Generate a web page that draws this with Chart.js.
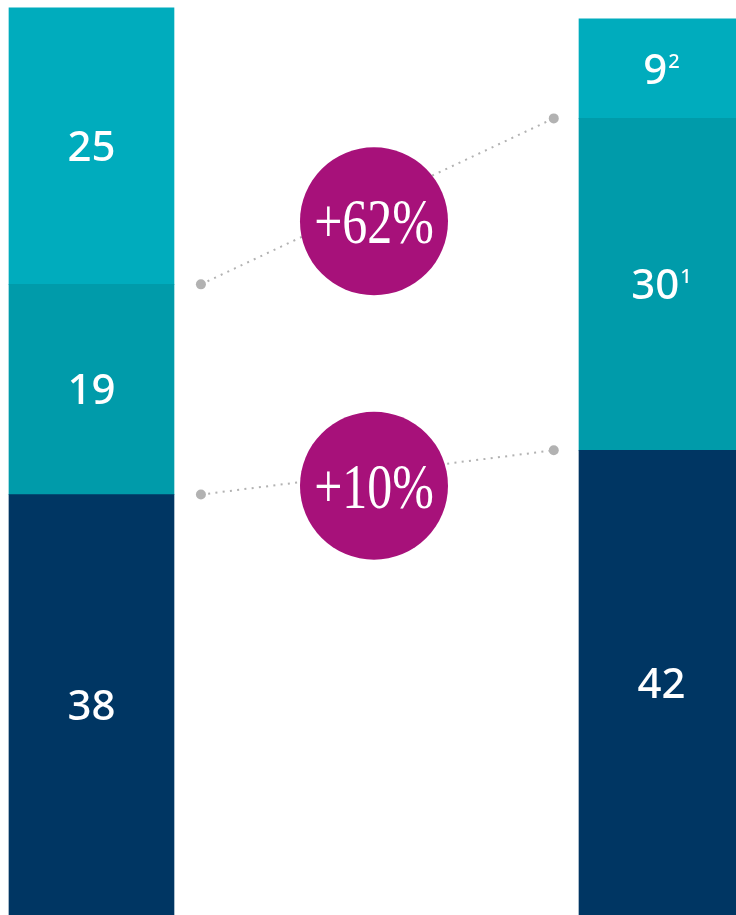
<!DOCTYPE html>
<html>
<head>
<meta charset="utf-8">
<script src="https://cdn.jsdelivr.net/npm/chart.js@4.4.0/dist/chart.umd.min.js"></script>
<style>
html,body{margin:0;padding:0;background:#fff;overflow:hidden}
#wrap{width:736px;height:915px}
</style>
</head>
<body>
<div id="wrap"><canvas id="c" width="736" height="915"></canvas></div>
<script>
// values, two columns stacked bottom -> top
var cols=[0,1];
var bottomVals=[38,42];
var midVals=[19,30];
var topVals=[25,9];
var bottomNotes=['',''];
var midNotes=['','1'];
var topNotes=['','2'];
var changeTxt=['+10%','+62%'];   // lower link, upper link

// layout
var X_MIN=-0.1605,X_MAX=1.1307,Y_MAX=82.7;
var linkX=[0.192,0.811],badgeX=0.4956,badgeY=[38.8,62.7],badgeR=74;

var cBottom='#003663',cMid='#009baa',cTop='#00acbd',cBadge='#a7117a',cLink='#b2b2b2';

function barSet(vals,color){
    return {type:'bar',stack:'s',order:3,backgroundColor:color,barThickness:165,borderWidth:0,
        data:cols.map(function(x,i){return {x:x,y:vals[i]};})};
}
function linkSet(a,b){
    return {type:'line',order:2,data:[{x:linkX[0],y:a},{x:linkX[1],y:b}],
        borderColor:cLink,borderWidth:2,borderDash:[2,5.3],fill:false,tension:0,
        pointRadius:5,pointBackgroundColor:cLink,pointBorderWidth:0};
}
function badgeSet(k){
    return {type:'bubble',order:1,data:[{x:badgeX,y:badgeY[k],r:badgeR}],
        backgroundColor:cBadge,borderWidth:0,hoverRadius:0};
}

var labelPlugin={
    id:'labels',
    afterDatasetsDraw:function(chart){
        var ctx=chart.ctx;
        ctx.save();
        ctx.fillStyle='#fff';
        ctx.textBaseline='alphabetic';
        ctx.textAlign='left';
        var sets=[[bottomVals,bottomNotes],[midVals,midNotes],[topVals,topNotes]];
        for(var d=0;d<3;d++){
            var meta=chart.getDatasetMeta(d);
            for(var i=0;i<meta.data.length;i++){
                var el=meta.data[i];
                var cx=el.x,cy=(el.y+el.base)/2;
                var num=String(sets[d][0][i]),sup=sets[d][1][i];
                ctx.font='500 42px "Noto Sans"';
                var w1=ctx.measureText(num).width;
                ctx.font='500 20px "Noto Sans"';
                var w2=sup?ctx.measureText(sup).width+1:0;
                var x0=cx-(w1+w2)/2;
                ctx.font='500 42px "Noto Sans"';
                ctx.fillText(num,x0,cy+15);
                if(sup){
                    ctx.font='500 20px "Noto Sans"';
                    ctx.fillText(sup,x0+w1+1,cy-1);
                }
            }
        }
        // badge text
        for(var k=0;k<2;k++){
            var b=chart.getDatasetMeta(5+k).data[0];
            ctx.save();
            ctx.translate(b.x,b.y+22);
            ctx.scale(0.78,1);
            ctx.font='64px "Liberation Serif"';
            ctx.textAlign='center';
            ctx.fillText(changeTxt[k],0,0);
            ctx.restore();
        }
        ctx.restore();
    }
};

new Chart(document.getElementById('c'),{
    type:'bar',
    data:{datasets:[
        barSet(bottomVals,cBottom),
        barSet(midVals,cMid),
        barSet(topVals,cTop),
        linkSet(bottomVals[0],bottomVals[1]),
        linkSet(bottomVals[0]+midVals[0],bottomVals[1]+midVals[1]),
        badgeSet(0),
        badgeSet(1)
    ]},
    options:{
        responsive:false,animation:false,events:[],
        layout:{padding:0,autoPadding:false},
        plugins:{legend:{display:false},tooltip:{enabled:false}},
        scales:{
            x:{type:'linear',display:false,min:X_MIN,max:X_MAX,offset:false},
            y:{type:'linear',display:false,min:0,max:Y_MAX}
        }
    },
    plugins:[labelPlugin]
});
</script>
</body>
</html>
